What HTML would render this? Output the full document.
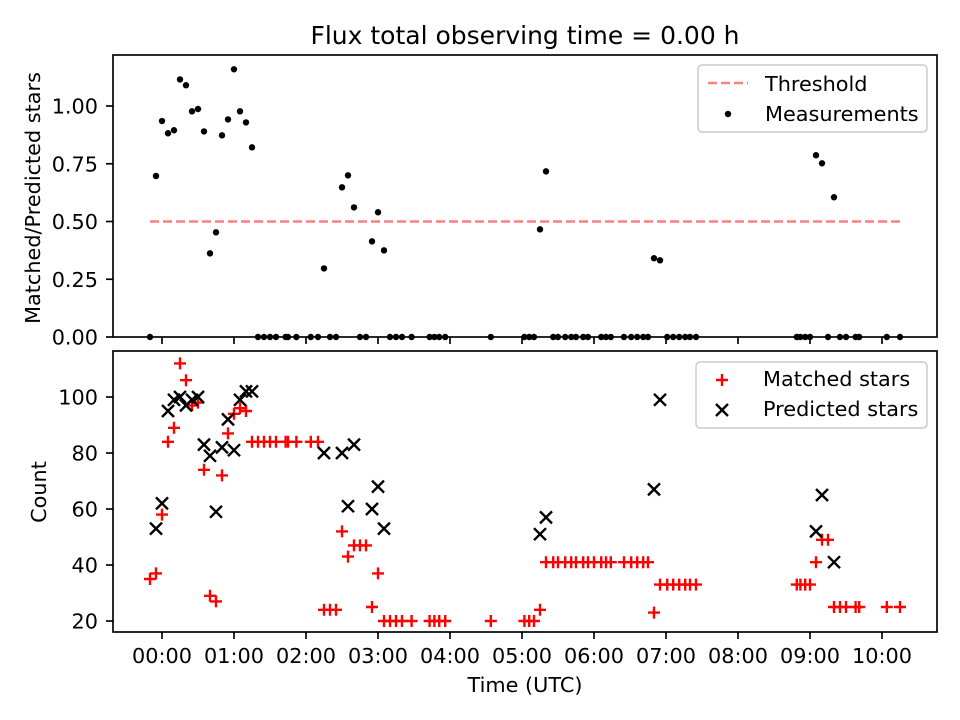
<!DOCTYPE html>
<html><head><meta charset="utf-8"><style>
html,body{margin:0;padding:0;background:#fff;}
svg{display:block;font-family:"DejaVu Sans","Liberation Sans",sans-serif;}
</style></head><body>
<svg id="chart" width="960" height="720" viewBox="0 0 960 720">
<rect width="960" height="720" fill="#fff"/>
<text x="525" y="44" text-anchor="middle" font-size="25">Flux total observing time = 0.00 h</text>
<g id="topPanel"></g>
<g id="botPanel"></g>
<text x="525" y="692" text-anchor="middle" font-size="20.8">Time (UTC)</text>
<text transform="translate(40,198) rotate(-90)" text-anchor="middle" font-size="20.8">Matched/Predicted stars</text>
<text transform="translate(46,492) rotate(-90)" text-anchor="middle" font-size="20.8">Count</text>
</svg>
<script>
// data: times in minutes relative to 00:00 UTC
const ratioT=[-10,-5,0,5,10,15,20,25,30,35,40,45,50,55,60,65,70,75,80,85,90,95,103,105,112,124,130,135,140,145,150,155,160,165,170,175,180,185,190,195,200,208,223,227,231,236,274,302,306,310,315,320,326,330,336,341,345,351,355,366,370,374,385,391,396,401,405,410,415,421,426,431,436,440,445,529,532,536,540,545,550,555,560,565,570,578,581,604,615];
const ratioV=[0,.697,.935,.882,.895,1.115,1.09,.977,.987,.89,.362,.453,.873,.942,1.159,.977,.929,.821,0,0,0,0,0,0,0,0,0,.297,0,0,.648,.700,.561,0,0,.414,.540,.375,0,0,0,0,0,0,0,0,0,0,0,0,.466,.717,0,0,0,0,0,0,0,0,0,0,0,0,0,0,0,.341,.332,0,0,0,0,0,0,0,0,0,0,.787,.752,0,.605,0,0,0,0,0,0];
const threshold=0.5;
const matchedT=[-10,-5,0,5,10,15,20,25,30,35,40,45,50,55,60,65,70,75,80,85,90,95,103,105,112,124,130,135,140,145,150,155,160,165,170,175,180,185,190,195,200,208,223,227,231,236,274,302,306,310,315,320,326,330,336,341,345,351,355,360,366,370,374,385,391,396,401,405,410,415,421,426,431,436,440,445,529,532,536,540,545,550,555,560,565,570,578,581,604,615];
const matchedV=[35,37,58,84,89,112,106,97,98,74,29,27,72,87,94,96,95,84,84,84,84,84,84,84,84,84,84,24,24,24,52,43,47,47,47,25,37,20,20,20,20,20,20,20,20,20,20,20,20,20,24,41,41,41,41,41,41,41,41,41,41,41,41,41,41,41,41,41,23,33,33,33,33,33,33,33,33,33,33,33,41,49,49,25,25,25,25,25,25,25];
const predT=[-5,0,5,10,15,20,25,30,35,40,45,50,55,60,65,70,75,135,150,155,160,175,180,185,315,320,410,415,545,550,560];
const predV=[53,62,95,99,100,97,99,100,83,79,59,82,92,81,99,102,102,80,80,61,83,60,68,53,51,57,67,99,52,65,41];
const xTicks=["00:00","01:00","02:00","03:00","04:00","05:00","06:00","07:00","08:00","09:00","10:00"];
const topTicks=[0,0.25,0.5,0.75,1.0];
const botTicks=[20,40,60,80,100];

const NS="http://www.w3.org/2000/svg";
const L=113,R=937,TT=55,TB=337,BT=351,BB=632;
const FS=20.8, SW=1.67, TL=7;
const xs=m=>162+m/60*72;
const yTop=v=>337-v*231;
const yBot=v=>397-(v-100)*2.8;
function mk(p,tag,at){const e=document.createElementNS(NS,tag);for(const k in at)e.setAttribute(k,at[k]);p.appendChild(e);return e;}
const topG=document.getElementById('topPanel'),botG=document.getElementById('botPanel');

const tl=mk(topG,'line',{x1:xs(Math.min(...ratioT)),x2:xs(Math.max(...ratioT)),y1:yTop(threshold),y2:yTop(threshold),stroke:'#ff0000','stroke-opacity':0.5,'stroke-width':2.4,'stroke-dasharray':'9,4'});


ratioT.forEach((t,i)=>{
 const c=mk(topG,'circle',{cx:xs(t),cy:yTop(ratioV[i]),r:3.2,fill:'#000'});
 
 
});
matchedT.forEach((t,i)=>{
 const x=xs(t),y=yBot(matchedV[i]);
 const g=mk(botG,'path',{d:`M${x-6},${y}H${x+6}M${x},${y-6}V${y+6}`,stroke:'#ff0000','stroke-width':2.4,fill:'none'});
 
 
});
predT.forEach((t,i)=>{
 const x=xs(t),y=yBot(predV[i]);
 const g=mk(botG,'path',{d:`M${x-6},${y-6}L${x+6},${y+6}M${x-6},${y+6}L${x+6},${y-6}`,stroke:'#000','stroke-width':2.4,fill:'none'});
 
 
});
[[TT,TB,topG],[BT,BB,botG]].forEach(([a,b,p])=>{
 const f=mk(p,'rect',{x:L,y:a,width:R-L,height:b-a,fill:'none',stroke:'#000','stroke-width':SW});
 
 
});
xTicks.forEach((lab,i)=>{
 const x=xs(i*60);
 mk(topG,'line',{x1:x,x2:x,y1:TB,y2:TB+TL,stroke:'#000','stroke-width':SW});
 mk(botG,'line',{x1:x,x2:x,y1:BB,y2:BB+TL,stroke:'#000','stroke-width':SW});
 const t=mk(botG,'text',{x:x,y:663,'text-anchor':'middle','font-size':FS});
 t.textContent=lab;
 
 
});
topTicks.forEach(v=>{
 const y=yTop(v);
 mk(topG,'line',{x1:L-TL,x2:L,y1:y,y2:y,stroke:'#000','stroke-width':SW});
 const t=mk(topG,'text',{x:L-15,y:y+7.5,'text-anchor':'end','font-size':FS});
 t.textContent=v.toFixed(2);
 
 
});
botTicks.forEach(v=>{
 const y=yBot(v);
 mk(botG,'line',{x1:L-TL,x2:L,y1:y,y2:y,stroke:'#000','stroke-width':SW});
 const t=mk(botG,'text',{x:L-15,y:y+7.5,'text-anchor':'end','font-size':FS});
 t.textContent=String(v);
 
 
});
const lg1=mk(topG,'g',{});


mk(lg1,'rect',{x:698,y:65,width:229,height:67,rx:4,fill:'#fff','fill-opacity':0.8,stroke:'#ccc','stroke-width':1.5});
mk(lg1,'line',{x1:708,x2:748,y1:83,y2:83,stroke:'#ff0000','stroke-opacity':0.5,'stroke-width':2.4,'stroke-dasharray':'9,4'});
let tx=mk(lg1,'text',{x:765,y:91,'font-size':FS});tx.textContent='Threshold';
mk(lg1,'circle',{cx:728,cy:114,r:3.2,fill:'#000'});
tx=mk(lg1,'text',{x:765,y:121,'font-size':FS});tx.textContent='Measurements';
const lg2=mk(botG,'g',{});


mk(lg2,'rect',{x:696,y:362,width:231,height:66,rx:4,fill:'#fff','fill-opacity':0.8,stroke:'#ccc','stroke-width':1.5});
mk(lg2,'path',{d:'M716,380H728M722,374V386',stroke:'#ff0000','stroke-width':2.4});
tx=mk(lg2,'text',{x:763,y:386,'font-size':FS});tx.textContent='Matched stars';
mk(lg2,'path',{d:'M716,404L728,416M716,416L728,404',stroke:'#000','stroke-width':2.4});
tx=mk(lg2,'text',{x:763,y:416,'font-size':FS});tx.textContent='Predicted stars';
</script>
</body></html>
